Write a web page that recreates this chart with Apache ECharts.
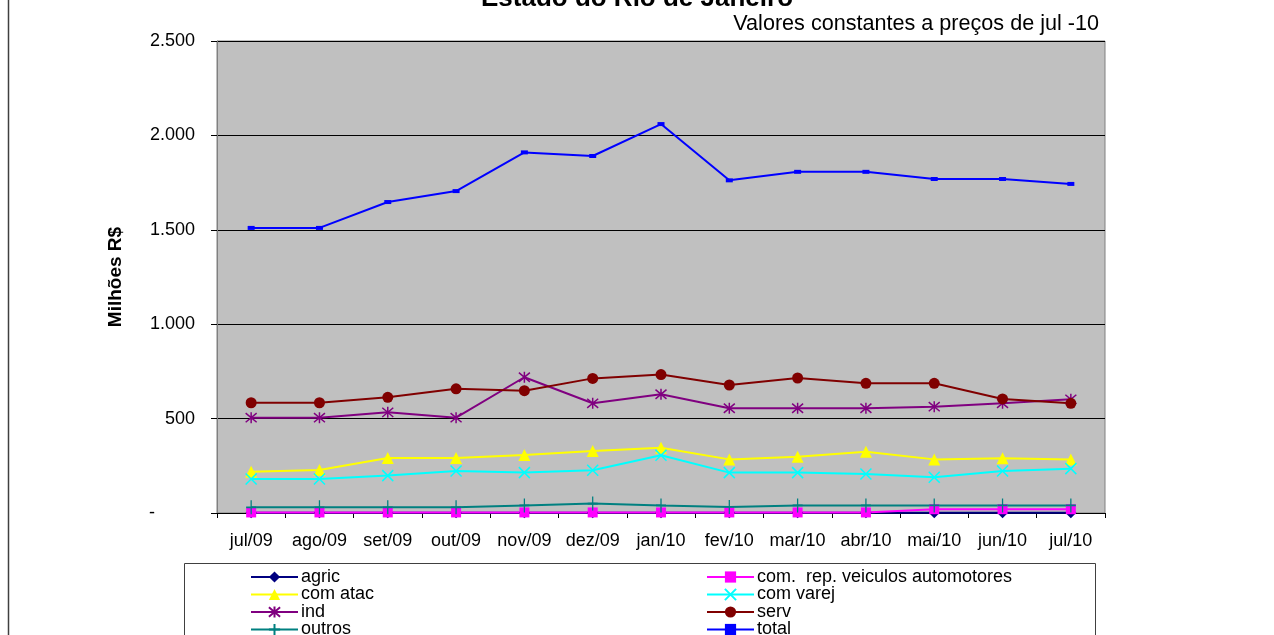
<!DOCTYPE html>
<html>
<head>
<meta charset="utf-8">
<script src="https://cdn.jsdelivr.net/npm/echarts@6/dist/echarts.min.js"></script>
<style>html,body{margin:0;padding:0;background:#fff;}#c{width:1274px;height:635px;}</style>
</head>
<body>
<div id="c"></div>
<script>
const categories = ['jul/09','ago/09','set/09','out/09','nov/09','dez/09','jan/10','fev/10','mar/10','abr/10','mai/10','jun/10','jul/10'];
const agric    = [1, 1, 1, 1, 1, 1, 1, 1, 1, 1, 1, 1, 1];
const comRep   = [3, 3, 3, 3, 3, 3, 3, 3, 3, 3, 20, 20, 20];
const comAtac  = [219, 228, 291, 291, 307, 328, 346, 284, 298, 325, 284, 290, 284];
const comVarej = [180, 180, 198, 222, 214, 226, 306, 214, 214, 207, 189, 222, 235];
const ind      = [505, 505, 533, 505, 719, 581, 629, 555, 555, 555, 563, 581, 602];
const serv     = [584, 584, 613, 658, 648, 713, 733, 678, 715, 687, 687, 604, 581];
const outros   = [30, 30, 30, 30, 40, 50, 40, 32, 40, 40, 40, 40, 40];
const total    = [1510, 1510, 1647, 1705, 1910, 1891, 2060, 1762, 1807, 1807, 1769, 1769, 1743];
const yTicks = [0, 500, 1000, 1500, 2000, 2500];

const FONT = '"Liberation Sans", Arial, sans-serif';
const X_SYM = 'path://M0,0L10,10M10,0L0,10';
const STAR_SYM = 'path://M0,0L10,10M10,0L0,10M5,-1L5,11';
const PLUS_SYM = 'path://M5,0L5,14M0,7L10,7';

function fmt(v){
  if (v === 0) return '{d|-}';
  return String(v).replace(/\B(?=(\d{3})+(?!\d))/g, '.');
}

function mk(name, data, color, symbol, size, extra){
  return Object.assign({
    name: name, type: 'line', data: data,
    symbol: symbol, symbolSize: size,
    lineStyle: {color: color, width: 2},
    itemStyle: {color: color, borderColor: color, borderWidth: 0},
    animation: false, z: 3
  }, extra || {});
}

const series = [
  mk('agric', agric, '#000080', 'diamond', 11),
  mk('com.  rep. veiculos automotores', comRep, '#FF00FF', 'rect', 10),
  mk('com atac', comAtac, '#FFFF00', 'triangle', 12),
  mk('com varej', comVarej, '#00FFFF', X_SYM, 11, {itemStyle:{color:'#00FFFF', borderColor:'#00FFFF', borderWidth:1.5}}),
  mk('ind', ind, '#800080', STAR_SYM, 11, {itemStyle:{color:'#800080', borderColor:'#800080', borderWidth:1.5}}),
  mk('serv', serv, '#800000', 'circle', 11),
  mk('outros', outros, '#008080', PLUS_SYM, [10,14], {itemStyle:{color:'#008080', borderColor:'#008080', borderWidth:1.5}}),
  mk('total', total, '#0000FF', 'rect', [7,4])
];

const legendCommon = {
  orient: 'vertical', itemWidth: 47, itemHeight: 14, itemGap: -0.5, height: 140,
  textStyle: {fontFamily: FONT, fontSize: 18, color: '#000', lineHeight: 16, padding: [0,0,0,-2]},
  padding: 0
};

const chart = echarts.init(document.getElementById('c'));
chart.setOption({
  backgroundColor: '#fff',
  animation: false,
  title: [
    {text: 'Estado do Rio de Janeiro', left: 'center', top: -19,
     textStyle: {fontFamily: FONT, fontSize: 26, fontWeight: 'bold', color: '#000'}},
    {text: 'Valores constantes a preços de jul -10', right: 170, top: 8,
     textStyle: {fontFamily: FONT, fontSize: 21.6, fontWeight: 'normal', color: '#000'}}
  ],
  grid: {left: 217, right: 169, top: 41, bottom: 122, show: true,
         backgroundColor: '#C0C0C0', borderColor: '#808080', borderWidth: 1},
  legend: [
    Object.assign({}, legendCommon, {left: 250, top: 568,
      data: ['agric','com atac','ind','outros']}),
    Object.assign({}, legendCommon, {left: 706, top: 568,
      data: ['com.  rep. veiculos automotores','com varej','serv','total']})
  ],
  xAxis: {
    type: 'category', data: categories, boundaryGap: true,
    axisLine: {lineStyle: {color: '#000', width: 1}},
    axisTick: {show: true, length: 5, inside: false, lineStyle: {color: '#000'}},
    axisLabel: {fontFamily: FONT, fontSize: 18, color: '#000', margin: 19, interval: 0}
  },
  yAxis: {
    type: 'value', min: 0, max: 2500, interval: 500,
    name: 'Milhões R$', nameLocation: 'middle', nameGap: 92, nameRotate: 90,
    nameTextStyle: {fontFamily: FONT, fontSize: 19, fontWeight: 'bold', color: '#000'},
    axisLine: {show: true, lineStyle: {color: '#808080'}},
    axisTick: {show: true, length: 6, lineStyle: {color: '#000'}},
    splitLine: {show: true, lineStyle: {color: '#000', width: 1}},
    axisLabel: {fontFamily: FONT, fontSize: 18, color: '#000', margin: 22,
      formatter: fmt,
      rich: {d: {width: 46, align: 'left', fontFamily: FONT, fontSize: 18, color: '#000'}}}
  },
  graphic: [
    {type: 'line', shape: {x1: 8.5, y1: 0, x2: 8.5, y2: 635}, style: {stroke: '#404040', lineWidth: 1.5}, silent: true},
    {type: 'rect', shape: {x: 184.5, y: 563.5, width: 911, height: 80}, style: {fill: 'none', stroke: '#404040', lineWidth: 1}, silent: true, z: -1}
  ],
  series: series
});
</script>
</body>
</html>
